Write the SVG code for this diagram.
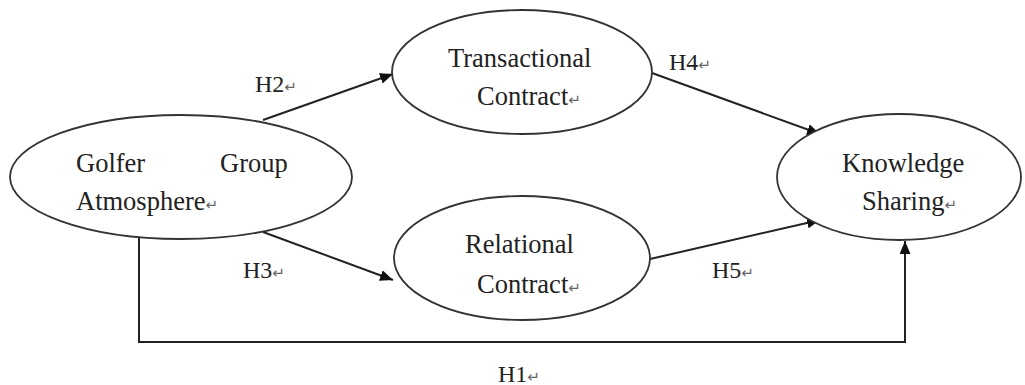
<svg xmlns="http://www.w3.org/2000/svg" width="1025" height="385" viewBox="0 0 1025 385">
<style>
.node{fill:#fff;stroke:#333;stroke-width:1.8}
.t{font-family:"Liberation Serif","Times New Roman",serif;font-size:26.5px;fill:#222}
.h{font-family:"Liberation Serif","Times New Roman",serif;font-size:24px;fill:#222}
.r{font-family:"DejaVu Sans",sans-serif;font-size:15px;fill:#666}
.c{fill:none;stroke:#222;stroke-width:2}
</style>
<defs>
<marker id="ah" viewBox="0 0 13 11" refX="13" refY="5.5" markerWidth="13" markerHeight="11" markerUnits="userSpaceOnUse" orient="auto">
<path d="M0,0 L13,5.5 L0,11 z" fill="#111"/>
</marker>
</defs>
<rect width="1025" height="385" fill="#fff"/>
<g id="connectors">
<line class="c" x1="263" y1="120" x2="393" y2="74" marker-end="url(#ah)"/>
<line class="c" x1="652" y1="73" x2="820" y2="134" marker-end="url(#ah)"/>
<line class="c" x1="263" y1="232" x2="393" y2="280" marker-end="url(#ah)"/>
<line class="c" x1="650" y1="259" x2="820" y2="220" marker-end="url(#ah)"/>
<polyline class="c" points="139,236 139,342 905,342 905,241" marker-end="url(#ah)"/>
</g>
<g id="golfer">
<ellipse class="node" cx="181" cy="177" rx="171" ry="62"/>
<text class="t" x="76" y="172">Golfer</text>
<text class="t" x="220" y="172">Group</text>
<text class="t" x="76" y="210">Atmosphere<tspan class="r">↵</tspan></text>
</g>
<g id="transactional">
<ellipse class="node" cx="522" cy="72" rx="130" ry="62"/>
<text class="t" x="448" y="67">Transactional</text>
<text class="t" x="477" y="105">Contract<tspan class="r">↵</tspan></text>
</g>
<g id="relational">
<ellipse class="node" cx="522" cy="258" rx="128" ry="62"/>
<text class="t" x="465" y="253">Relational</text>
<text class="t" x="477" y="293">Contract<tspan class="r">↵</tspan></text>
</g>
<g id="knowledge">
<ellipse class="node" cx="899" cy="177" rx="122" ry="63"/>
<text class="t" x="842" y="172">Knowledge</text>
<text class="t" x="862" y="210">Sharing<tspan class="r">↵</tspan></text>
</g>
<g id="labels">
<text class="h" x="255" y="92">H2<tspan class="r">↵</tspan></text>
<text class="h" x="669" y="70">H4<tspan class="r">↵</tspan></text>
<text class="h" x="243" y="278">H3<tspan class="r">↵</tspan></text>
<text class="h" x="712" y="278">H5<tspan class="r">↵</tspan></text>
<text class="h" x="498" y="382">H1<tspan class="r">↵</tspan></text>
</g>
</svg>
